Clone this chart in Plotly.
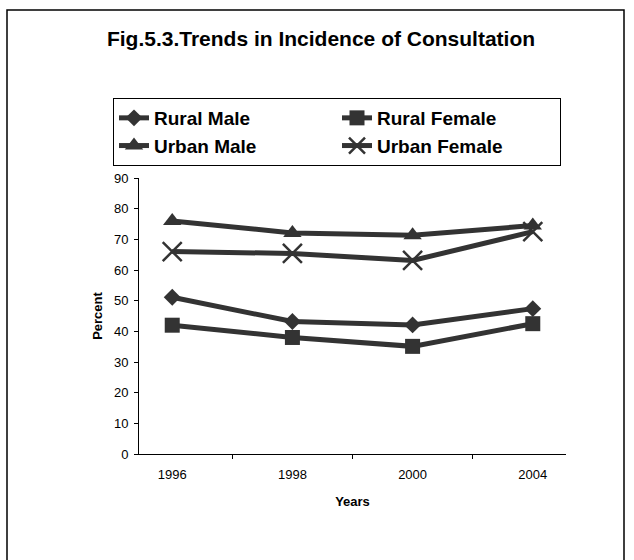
import plotly.graph_objects as go

years = ["1996", "1998", "2000", "2004"]
rural_male = [51.1, 43.2, 42.1, 47.4]
rural_female = [42.0, 38.0, 35.1, 42.5]
urban_male = [76.0, 72.1, 71.3, 74.5]
urban_female = [66.0, 65.4, 63.1, 72.5]
y_ticks = [0, 10, 20, 30, 40, 50, 60, 70, 80, 90]

LINE = "#333333"
FONT = "Liberation Sans, Arial, sans-serif"

series = [
    ("Rural Male", rural_male, "diamond", 13, 0),
    ("Rural Female", rural_female, "square", 15, 0),
    ("Urban Male", urban_male, "triangle-up", 16, 0),
    ("Urban Female", urban_female, "x-thin", 19, 2.5),
]

fig = go.Figure()
for name, vals, sym, size, lw in series:
    fig.add_trace(go.Scatter(
        x=years, y=vals, name=name, mode="lines+markers",
        line=dict(color=LINE, width=5),
        marker=dict(symbol=sym, size=size, color=LINE,
                    line=dict(color=LINE, width=lw)),
    ))

W, H = 634, 560
L, R, T, B = 139, 566, 178, 454
pw, ph = R - L, B - T

def px(x):
    return (x - L) / pw

def py(y):
    return (B - y) / ph

fig.add_shape(type="rect", xref="paper", yref="paper",
              x0=px(7), x1=px(624), y0=py(580), y1=py(10),
              line=dict(color="black", width=1.5), fillcolor="rgba(0,0,0,0)",
              layer="below")

fig.update_layout(
    width=W, height=H,
    margin=dict(l=L, r=W - R, t=T, b=H - B, pad=0),
    paper_bgcolor="white", plot_bgcolor="white",
    font=dict(family=FONT, color="black"),
    title=dict(text="<b>Fig.5.3.Trends in Incidence of Consultation</b>",
               x=321 / W, xanchor="center", xref="container",
               y=1 - 39 / H, yanchor="middle", yref="container",
               font=dict(size=21, family=FONT, color="black")),
    legend=dict(orientation="h", x=px(113), y=py(98), xanchor="left", yanchor="top",
                bordercolor="black", borderwidth=1, bgcolor="white",
                font=dict(size=19, family=FONT, color="black", weight="bold"),
                entrywidth=178, entrywidthmode="pixels",
                itemsizing="trace", tracegroupgap=0),
    showlegend=True,
)

fig.update_xaxes(
    type="category", categoryorder="array", categoryarray=years,
    showline=True, linecolor="black", linewidth=1,
    ticks="outside", ticklen=4, tickcolor="black", tickson="boundaries",
    ticklabelstandoff=8,
    tickfont=dict(size=13, family=FONT, color="black"),
    showgrid=False, zeroline=False,
    title=dict(text="<b>Years</b>", font=dict(size=13, family=FONT, color="black"), standoff=16),
)
fig.update_yaxes(
    range=[0, 90], tickvals=y_ticks,
    showline=True, linecolor="black", linewidth=1,
    ticks="outside", ticklen=4, tickcolor="black",
    ticklabelstandoff=3,
    tickfont=dict(size=13, family=FONT, color="black"),
    showgrid=False, zeroline=False,
    title=dict(text="<b>Percent</b>", font=dict(size=13, family=FONT, color="black"), standoff=8),
)

fig.write_html("out.html", config={"displayModeBar": False},
               post_script="document.body.style.margin='0';")
